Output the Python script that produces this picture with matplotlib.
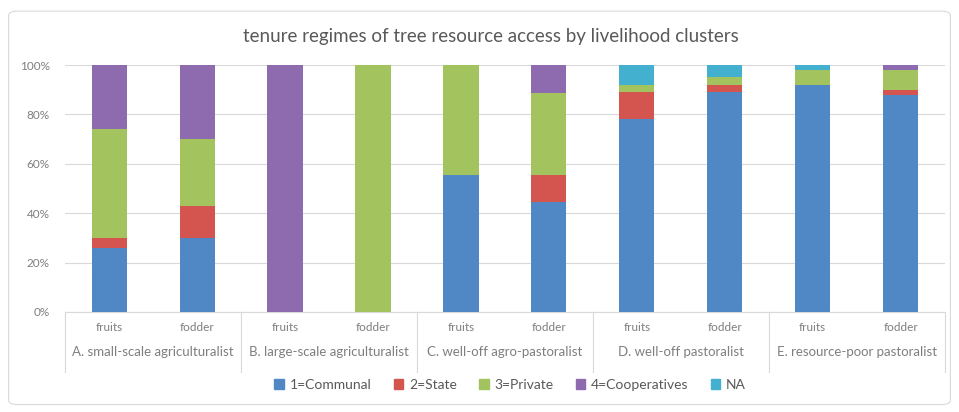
import matplotlib
matplotlib.use("Agg")
import matplotlib.pyplot as plt
from matplotlib.patches import FancyBboxPatch, Patch
import numpy as np

plt.rcParams["font.family"] = ["Lato", "DejaVu Sans"]

groups = ["A. small-scale agriculturalist", "B. large-scale agriculturalist",
          "C. well-off agro-pastoralist", "D. well-off pastoralist",
          "E. resource-poor pastoralist"]
products = ["fruits", "fodder"]
series = ["1=Communal", "2=State", "3=Private", "4=Cooperatives", "NA"]

# share (%) per bar, order: A fruits, A fodder, B fruits, B fodder, ... E fodder
communal = [26, 30, 0, 0, 55.6, 44.4, 78, 89, 92, 88]
state = [4, 13, 0, 0, 0, 11.1, 11, 3, 0, 2]
private = [44, 27, 0, 100, 44.4, 33.3, 3, 3, 6, 8]
coops = [26, 30, 100, 0, 0, 11.1, 0, 0, 0, 2]
na = [0, 0, 0, 0, 0, 0, 8, 5, 2, 0]

colors = ["#5088C6", "#D45550", "#A3C35E", "#8D6BAE", "#44B0CF"]
TXT = "#7F7F7F"

fig = plt.figure(figsize=(9.59, 4.12), dpi=100)
fig.patches.append(FancyBboxPatch((0.009, 0.018), 0.982, 0.955,
                                  boxstyle="round,pad=0,rounding_size=0.01",
                                  transform=fig.transFigure, fc="white",
                                  ec="#D9D9D9", lw=0.8, zorder=-1))
ax = fig.add_axes([0.068, 0.243, 0.917, 0.599])

x = np.arange(len(communal))
bottom = np.zeros(len(x))
for vals, c, name in zip([communal, state, private, coops, na], colors, series):
    v = np.array(vals, dtype=float)
    ax.bar(x, v, bottom=bottom, width=0.4, color=c, label=name, zorder=3)
    bottom += v

ax.set_xlim(-0.5, len(x) - 0.5)
ax.set_ylim(0, 100)
ax.set_yticks(range(0, 101, 20))
ax.set_yticklabels([f"{t}%" for t in range(0, 101, 20)])
ax.yaxis.grid(True, color="#D9D9D9", lw=0.8, zorder=0)
ax.tick_params(axis="y", length=0, labelsize=8.5, colors=TXT, pad=11)
for s in ["top", "right", "left"]:
    ax.spines[s].set_visible(False)
ax.spines["bottom"].set_color("#D9D9D9")

ax.set_xticks(x)
ax.set_xticklabels(products * len(groups))
ax.tick_params(axis="x", length=0, labelsize=8.5, colors=TXT, pad=7)

for i, g in enumerate(groups):
    ax.text(2 * i + 0.5, -0.163, g, transform=ax.get_xaxis_transform(),
            ha="center", va="center", fontsize=9.5, color=TXT)
for b in np.arange(-0.5, len(x), 2):
    ax.plot([b, b], [0, -0.243], transform=ax.get_xaxis_transform(),
            color="#D9D9D9", lw=0.8, clip_on=False)

fig.text(0.512, 0.912, "tenure regimes of tree resource access by livelihood clusters",
         ha="center", va="center", fontsize=13.5, color="#595959")

handles = [Patch(color=c) for c in colors]
fig.legend(handles, series, loc="center", bbox_to_anchor=(0.532, 0.065), ncol=5,
           frameon=False, fontsize=10, labelcolor="#595959", handlelength=0.7,
           handleheight=0.7, handletextpad=0.4, columnspacing=1.6)

fig.savefig("out.png", dpi=100)
